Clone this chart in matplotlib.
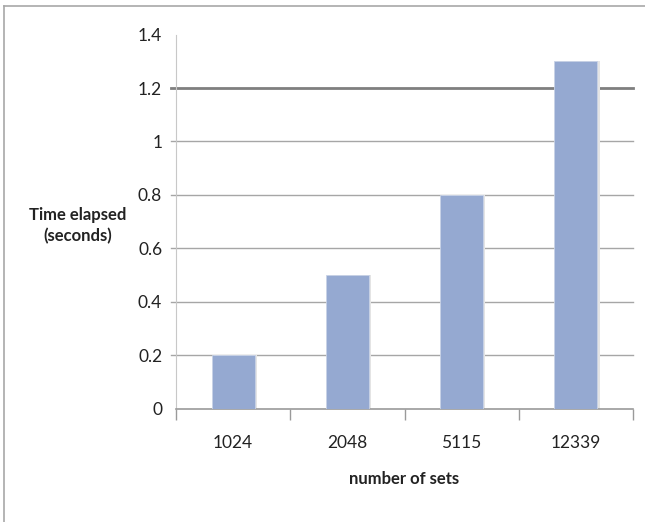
import numpy as np
import matplotlib.pyplot as plt
from matplotlib.lines import Line2D

# data
sets = ["1024", "2048", "5115", "12339"]
elapsed = [0.2, 0.5, 0.8, 1.3]
yticks = [0, 0.2, 0.4, 0.6, 0.8, 1, 1.2, 1.4]
ytick_labels = ["0", "0.2", "0.4", "0.6", "0.8", "1", "1.2", "1.4"]

plt.rcParams["font.family"] = ["Lato", "DejaVu Sans"]
narrow = ["Liberation Sans Narrow", "Lato", "DejaVu Sans"]

fig = plt.figure(figsize=(6.45, 5.22), dpi=100)
ax = fig.add_axes([0.2729, 0.2165, 0.7085, 0.7174])

# frame around the picture (top and left only visible)
fig.add_artist(Line2D([0.006, 1.0], [0.989, 0.989], transform=fig.transFigure,
                      color="#a8a8a8", lw=1.2))
fig.add_artist(Line2D([0.006, 0.006], [0.0, 0.989], transform=fig.transFigure,
                      color="#a8a8a8", lw=1.2))

x = np.arange(len(sets))

# gridlines, the 1.2 one is darker in the original
for v in yticks[1:]:
    if v == 1.2:
        ax.axhline(v, xmin=-0.012, xmax=1, color="#7f7f7f", lw=2.0, zorder=1, clip_on=False)
    elif v == 1.4:
        continue
    else:
        ax.axhline(v, xmin=-0.012, xmax=1, color="#a6a6a6", lw=1.0, zorder=1, clip_on=False)

# faint shadow then bars
ax.bar(x + 0.02, elapsed, 0.376, color="#e4e4e4", zorder=2)
ax.bar(x, elapsed, 0.376, color="#95a9d1", edgecolor="#c8d2e6", lw=0.6, zorder=3)

ax.set_xlim(-0.5, 3.5)
ax.set_ylim(0, 1.4)

ax.set_xticks(x)
ax.set_xticklabels(sets, fontsize=12.5, color="#222222", family=narrow)
ax.set_xticks(np.arange(-0.5, 4, 1), minor=True)
ax.tick_params(axis="x", which="major", length=0, pad=19)
ax.tick_params(axis="x", which="minor", length=8, color="#9a9a9a", width=1)

ax.set_yticks(yticks)
ax.set_yticklabels(ytick_labels, fontsize=12.5, color="#222222", family=narrow)
ax.tick_params(axis="y", length=0, pad=10)

for s in ["top", "right"]:
    ax.spines[s].set_visible(False)
ax.spines["left"].set_color("#c8c8c8")
ax.spines["bottom"].set_color("#9a9a9a")
ax.spines["bottom"].set_linewidth(1.2)

ax.set_xlabel("number of sets", fontsize=12, fontweight="bold", color="#222222", labelpad=14)
fig.text(0.121, 0.568, "Time elapsed\n(seconds)", ha="center", va="center",
         fontsize=12, fontweight="bold", color="#222222", linespacing=1.4)

fig.savefig("out.png", dpi=100)
